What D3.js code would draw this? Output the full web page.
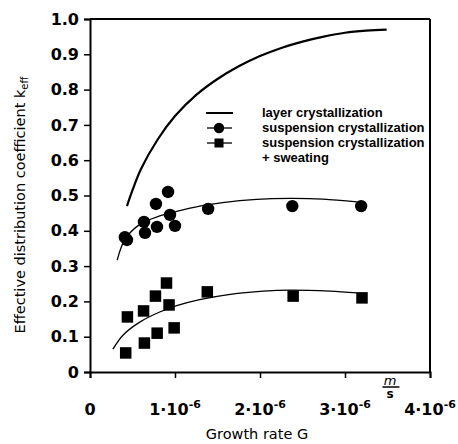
<!DOCTYPE html>
<html>
<head>
<meta charset="utf-8">
<script src="https://cdn.jsdelivr.net/npm/d3@7"></script>
<style>
body { margin: 0; background: #fff; }
svg { display: block; }
.tick text { font-family: "DejaVu Sans", sans-serif; font-weight: bold; }
</style>
</head>
<body>
<div id="chart"></div>
<script>
// growth rate G in units of 1e-6 m/s, k_eff values
var suspG    = [0.41, 0.435, 0.635, 0.647, 0.776, 0.788, 0.918, 0.941, 1.0, 1.39, 2.38, 3.19];
var suspK    = [0.382, 0.374, 0.425, 0.394, 0.476, 0.411, 0.510, 0.445, 0.414, 0.462, 0.470, 0.470];
var sweatG   = [0.42, 0.44, 0.64, 0.63, 0.79, 0.77, 0.90, 0.93, 0.99, 1.38, 2.39, 3.2];
var sweatK   = [0.054, 0.156, 0.082, 0.173, 0.110, 0.215, 0.252, 0.190, 0.125, 0.227, 0.215, 0.210];

// fitted curves
var layerCurveG = [0.435, 0.50, 0.60, 0.80, 1.00, 1.25, 1.50, 1.75, 2.00, 2.25, 2.50, 2.75, 3.00, 3.25, 3.49];
var layerCurveK = [0.470, 0.515, 0.575, 0.660, 0.725, 0.785, 0.830, 0.866, 0.895, 0.918, 0.936, 0.950, 0.961, 0.967, 0.970];
var suspCurveG  = [0.32, 0.41, 0.59, 0.82, 1.02, 1.29, 1.56, 1.96, 2.35, 2.74, 3.14];
var suspCurveK  = [0.317, 0.375, 0.419, 0.442, 0.455, 0.470, 0.480, 0.489, 0.492, 0.490, 0.482];
var sweatCurveG = [0.27, 0.39, 0.59, 0.82, 1.02, 1.29, 1.65, 2.04, 2.35, 2.82, 3.14];
var sweatCurveK = [0.065, 0.105, 0.142, 0.170, 0.188, 0.205, 0.220, 0.229, 0.232, 0.229, 0.224];

var yTicks = [0, 0.1, 0.2, 0.3, 0.4, 0.5, 0.6, 0.7, 0.8, 0.9, 1.0];
var xTicks = [0, 1, 2, 3, 4];
var legendLabels = ["layer crystallization", "suspension crystallization", "suspension crystallization", "+ sweating"];

var width = 458, height = 444;
var mLeft = 90, mRight = 430, mTop = 19, mBottom = 372;

var svg = d3.select("#chart").append("svg")
    .attr("width", width)
    .attr("height", height);

var x = d3.scaleLinear().domain([0, 4]).range([mLeft, mRight]);
var y = d3.scaleLinear().domain([0, 1]).range([mBottom, mTop]);

// axes
var yAxis = svg.append("g")
    .attr("transform", "translate(" + mLeft + ",0)")
    .call(d3.axisLeft(y).tickValues(yTicks).tickSize(6).tickPadding(5)
        .tickFormat(function(d){ return d === 0 ? "0" : d3.format(".1f")(d); }));
yAxis.selectAll("text").style("font-size", "16px");

var xAxis = svg.append("g")
    .attr("transform", "translate(0," + mBottom + ")")
    .call(d3.axisBottom(x).tickValues(xTicks).tickSize(6).tickFormat(""));

svg.selectAll(".domain").attr("stroke", "#000").attr("stroke-width", 2);
svg.selectAll(".tick line").attr("stroke", "#000").attr("stroke-width", 1.5);

// x tick labels with superscript exponents
xTicks.forEach(function(t){
    var txt = svg.append("text")
        .attr("x", x(t))
        .attr("y", 415)
        .attr("text-anchor", "middle")
        .style("font-family", "DejaVu Sans, sans-serif")
        .style("font-weight", "bold")
        .style("font-size", "16px");
    if (t === 0) {
        txt.text("0");
    } else {
        txt.append("tspan").text(t + "\u00b710");
        txt.append("tspan").attr("dy", -7).style("font-size", "11px").text("-6");
    }
});

// frame top and right
svg.append("line").attr("x1", mLeft).attr("x2", mRight).attr("y1", mTop).attr("y2", mTop)
    .attr("stroke", "#000").attr("stroke-width", 2);
svg.append("line").attr("x1", mRight).attr("x2", mRight).attr("y1", mTop).attr("y2", mBottom)
    .attr("stroke", "#000").attr("stroke-width", 2);

// unit m/s
svg.append("text").attr("x", x(3.53)).attr("y", 385)
    .attr("text-anchor", "middle")
    .style("font-family", "DejaVu Sans, sans-serif").style("font-style", "italic")
    .style("font-size", "13px").text("m");
svg.append("line").attr("x1", x(3.44)).attr("x2", x(3.64)).attr("y1", 387).attr("y2", 387)
    .attr("stroke", "#000").attr("stroke-width", 1.5);
svg.append("text").attr("x", x(3.53)).attr("y", 398)
    .attr("text-anchor", "middle")
    .style("font-family", "DejaVu Sans, sans-serif").style("font-weight", "bold")
    .style("font-size", "12px").text("s");

// axis titles
svg.append("text")
    .attr("x", 257)
    .attr("y", 439)
    .attr("text-anchor", "middle")
    .style("font-family", "DejaVu Sans, sans-serif")
    .style("font-size", "14.5px")
    .text("Growth rate G");

var yt = svg.append("text")
    .attr("transform", "translate(25,205) rotate(-90)")
    .attr("text-anchor", "middle")
    .style("font-family", "DejaVu Sans, sans-serif")
    .style("font-size", "14.5px");
yt.append("tspan").text("Effective distribution coefficient k");
yt.append("tspan").attr("dy", 3).style("font-size", "10px").text("eff");

// curves
var line = d3.line()
    .x(function(d){ return x(d[0]); })
    .y(function(d){ return y(d[1]); })
    .curve(d3.curveCatmullRom);

svg.append("path").datum(d3.zip(layerCurveG, layerCurveK))
    .attr("d", line).attr("fill", "none").attr("stroke", "#000").attr("stroke-width", 2.2);
svg.append("path").datum(d3.zip(suspCurveG, suspCurveK))
    .attr("d", line).attr("fill", "none").attr("stroke", "#000").attr("stroke-width", 1.3);
svg.append("path").datum(d3.zip(sweatCurveG, sweatCurveK))
    .attr("d", line).attr("fill", "none").attr("stroke", "#000").attr("stroke-width", 1.3);

// points
svg.selectAll("circle.pt")
    .data(d3.zip(suspG, suspK))
    .enter().append("circle")
    .attr("class", "pt")
    .attr("cx", function(d){ return x(d[0]); })
    .attr("cy", function(d){ return y(d[1]); })
    .attr("r", 6.2)
    .attr("fill", "#000");

var sq = 11.5;
svg.selectAll("rect.pt")
    .data(d3.zip(sweatG, sweatK))
    .enter().append("rect")
    .attr("class", "pt")
    .attr("x", function(d){ return x(d[0]) - sq / 2; })
    .attr("y", function(d){ return y(d[1]) - sq / 2; })
    .attr("width", sq)
    .attr("height", sq)
    .attr("fill", "#000");

// legend
var lg = svg.append("g").attr("transform", "translate(206,113)");
var rowH = 15;
lg.append("line").attr("x1", 0).attr("x2", 27).attr("y1", 0).attr("y2", 0)
    .attr("stroke", "#000").attr("stroke-width", 2);
lg.append("line").attr("x1", 1).attr("x2", 26).attr("y1", rowH).attr("y2", rowH)
    .attr("stroke", "#000").attr("stroke-width", 1.3);
lg.append("circle").attr("cx", 13).attr("cy", rowH).attr("r", 5.2).attr("fill", "#000");
lg.append("line").attr("x1", 1).attr("x2", 26).attr("y1", 2 * rowH).attr("y2", 2 * rowH)
    .attr("stroke", "#000").attr("stroke-width", 1.3);
lg.append("rect").attr("x", 13 - 4.5).attr("y", 2 * rowH - 4.5).attr("width", 9).attr("height", 9).attr("fill", "#000");

lg.selectAll("text.lab")
    .data(legendLabels)
    .enter().append("text")
    .attr("class", "lab")
    .attr("x", 56)
    .attr("y", function(d, i){ return i * rowH + 4; })
    .style("font-family", "Liberation Sans, Arial, sans-serif")
    .style("font-weight", "bold")
    .style("font-size", "13px")
    .text(function(d){ return d; });
</script>
</body>
</html>
